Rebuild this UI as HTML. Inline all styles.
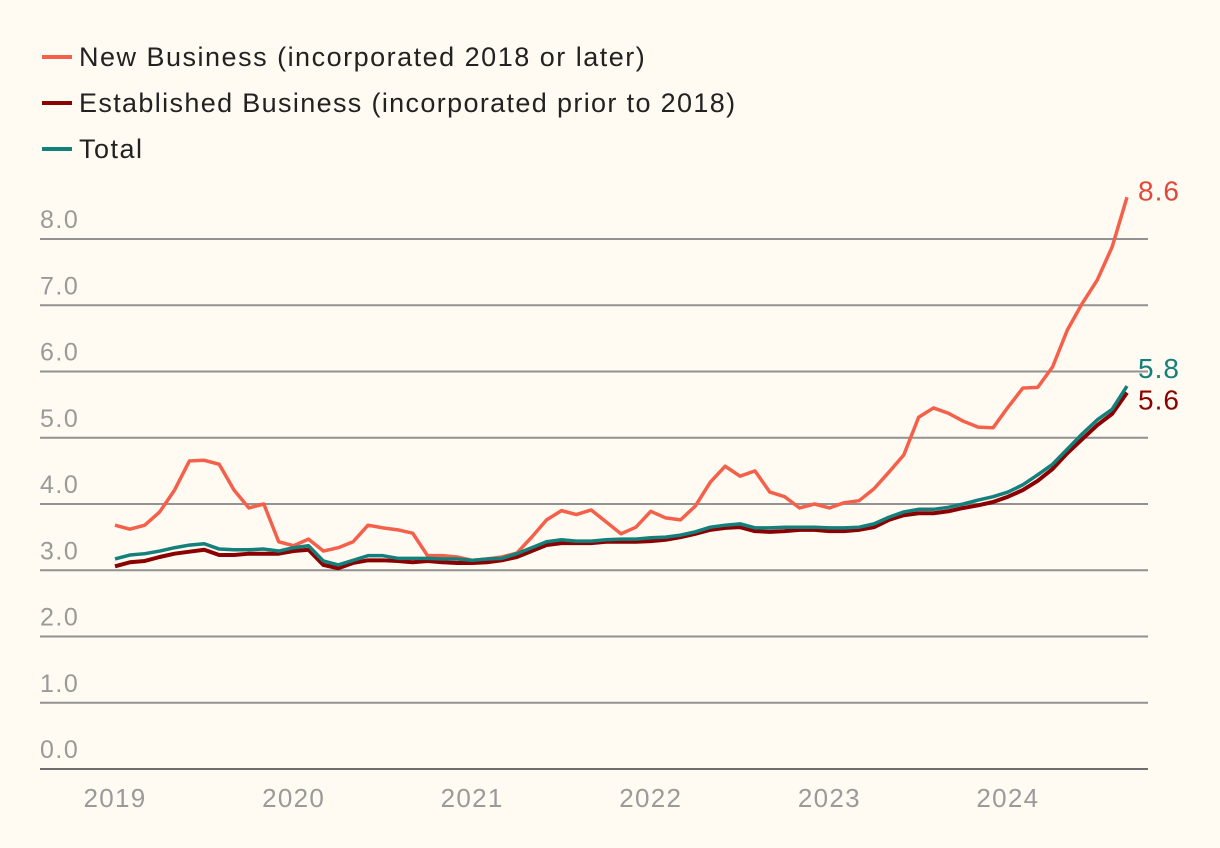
<!DOCTYPE html>
<html><head><meta charset="utf-8"><style>
body{margin:0;background:#fffaf2;}
svg{display:block;font-family:"Liberation Sans",sans-serif;}
</style></head><body>
<svg id="chart" width="1220" height="848" viewBox="0 0 1220 848">
<rect width="1220" height="848" fill="#fffaf2"/>
<g font-size="27" letter-spacing="1.5" fill="#222">
 <g><line x1="42" y1="57" x2="72" y2="57" stroke="#f4604a" stroke-width="4"/><text x="79" y="66">New Business (incorporated 2018 or later)</text></g>
 <g><line x1="42" y1="103" x2="72" y2="103" stroke="#8b0000" stroke-width="4"/><text x="79" y="112" letter-spacing="1.35">Established Business (incorporated prior to 2018)</text></g>
 <g><line x1="42" y1="149" x2="72" y2="149" stroke="#13807c" stroke-width="4"/><text x="79" y="158">Total</text></g>
</g>
<g id="grid"></g>
<g id="xaxis"></g>
<g id="series"></g>
</svg>
<script>
const yTicks=[0,1,2,3,4,5,6,7,8];
const yTickLabels=["0.0","1.0","2.0","3.0","4.0","5.0","6.0","7.0","8.0"];
const years=[2019,2020,2021,2022,2023,2024];
const newBiz=[3.68,3.62,3.68,3.88,4.21,4.65,4.66,4.6,4.21,3.94,4.0,3.43,3.37,3.47,3.29,3.34,3.43,3.68,3.64,3.61,3.56,3.22,3.22,3.2,3.15,3.17,3.2,3.26,3.5,3.76,3.9,3.84,3.91,3.73,3.55,3.65,3.89,3.79,3.76,3.97,4.33,4.57,4.42,4.5,4.18,4.11,3.94,4.0,3.94,4.02,4.05,4.23,4.48,4.74,5.31,5.45,5.37,5.25,5.16,5.15,5.46,5.75,5.76,6.07,6.63,7.03,7.38,7.88,8.63];
const established=[3.06,3.12,3.14,3.2,3.25,3.28,3.31,3.23,3.23,3.25,3.25,3.25,3.29,3.31,3.08,3.03,3.11,3.15,3.15,3.14,3.12,3.14,3.12,3.11,3.11,3.12,3.15,3.2,3.29,3.38,3.41,3.41,3.41,3.43,3.43,3.43,3.44,3.46,3.5,3.55,3.61,3.64,3.65,3.59,3.58,3.59,3.61,3.61,3.59,3.59,3.61,3.65,3.76,3.83,3.86,3.86,3.89,3.94,3.98,4.03,4.11,4.21,4.35,4.53,4.77,4.98,5.19,5.36,5.68];
const total=[3.17,3.23,3.25,3.29,3.34,3.38,3.4,3.32,3.31,3.31,3.32,3.29,3.34,3.37,3.14,3.08,3.15,3.22,3.22,3.18,3.18,3.18,3.17,3.17,3.15,3.17,3.18,3.25,3.34,3.43,3.46,3.44,3.44,3.46,3.47,3.47,3.49,3.5,3.53,3.58,3.65,3.68,3.7,3.64,3.64,3.65,3.65,3.65,3.64,3.64,3.65,3.7,3.8,3.88,3.92,3.92,3.95,4.0,4.06,4.11,4.18,4.29,4.44,4.6,4.83,5.06,5.27,5.43,5.78];
const endLabels=["8.6","5.6","5.8"];

const NS="http://www.w3.org/2000/svg";
const y=v=>769-v*66.25;
const x=i=>115+i*(1012/68);
const xYear=yr=>115+(yr-2019)*12*(1012/68);
function mk(tag,attrs,parent){const e=document.createElementNS(NS,tag);for(const k in attrs)e.setAttribute(k,attrs[k]);parent.appendChild(e);return e;}
const grid=document.getElementById('grid');
yTicks.forEach((t,i)=>{
  const l=mk('line',{x1:40,x2:1148,y1:y(t),y2:y(t),stroke:t===0?'#6f6f6f':'#929292','stroke-width':2},grid);
  
  
  const tx=mk('text',{x:40,y:y(t)-11,'font-size':25,'letter-spacing':1.5,fill:'#9a9a9a'},grid);
  tx.textContent=yTickLabels[i];
  
  
});
const xa=document.getElementById('xaxis');
years.forEach(yr=>{
  const tx=mk('text',{x:xYear(yr),y:807,'font-size':26,'letter-spacing':1.3,fill:'#9a9a9a','text-anchor':'middle'},xa);
  tx.textContent=yr;
  
  
});
const ser=document.getElementById('series');
const defs=[[newBiz,'#f4604a',3.5,'new-business-line',endLabels[0],-7,'#e0493a'],[established,'#8b0000',4,'established-business-line',endLabels[1],7,'#8b0000'],[total,'#13807c',3.5,'total-line',endLabels[2],-18,'#13807c']];
defs.forEach(([d,c,w,n,lab,dy,lc])=>{
  const p=mk('polyline',{points:d.map((v,i)=>x(i)+','+y(v)).join(' '),fill:'none',stroke:c,'stroke-width':w,'stroke-linejoin':'round'},ser);
  
  
  const last=d.length-1;
  const t=mk('text',{x:x(last)+11,y:y(d[last])+10+dy,'font-size':28,'letter-spacing':1,fill:lc},ser);
  t.textContent=lab;
  
  
});
</script>
</body></html>
